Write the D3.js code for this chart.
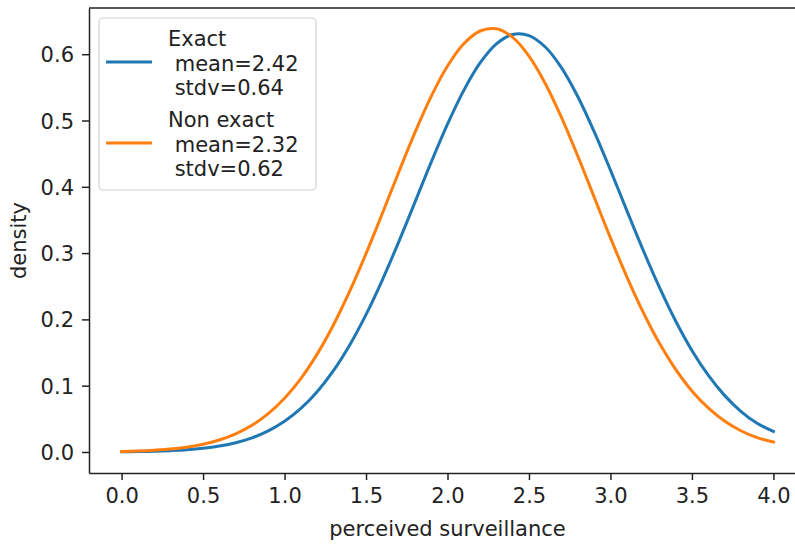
<!DOCTYPE html>
<html>
    <head>
        <meta charset="utf-8" />
        <script src="https://d3js.org/d3.v7.min.js"></script>
        <title>Perceived surveillance density</title>
        <style>
            body { margin: 0; background: #fff; }
            text { font-family: "DejaVu Sans", sans-serif; fill: #222; }
        </style>
    </head>
    <body>
      <svg id="chart">
        <g id="lines"></g>
        <g id="x"></g>
        <g id="y"></g>
        <g id="legend"></g>
      </svg>

<script>

        // sample points along perceived surveillance
        var xValues = [0.0, 0.1, 0.2, 0.3, 0.4, 0.5, 0.6, 0.7, 0.8, 0.9,
                       1.0, 1.1, 1.2, 1.3, 1.4, 1.5, 1.6, 1.7, 1.8, 1.9,
                       2.0, 2.1, 2.2, 2.3, 2.4, 2.5, 2.6, 2.7, 2.8, 2.9,
                       3.0, 3.1, 3.2, 3.3, 3.4, 3.5, 3.6, 3.7, 3.8, 3.9, 4.0];

        // density
        var exactDensity = [0.0003, 0.0006, 0.0011, 0.0020, 0.0033, 0.0055, 0.0089, 0.0139, 0.0213, 0.0318,
                            0.0463, 0.0657, 0.0909, 0.1227, 0.1615, 0.2073, 0.2594, 0.3165, 0.3766, 0.4372,
                            0.4945, 0.5455, 0.5868, 0.6156, 0.6297, 0.6281, 0.6109, 0.5795, 0.5359, 0.4833,
                            0.4251, 0.3645, 0.3048, 0.2486, 0.1976, 0.1532, 0.1159, 0.0854, 0.0614, 0.0432, 0.0310];

        var nonExactDensity = [0.0009, 0.0015, 0.0027, 0.0044, 0.0073, 0.0116, 0.0180, 0.0272, 0.0402, 0.0578,
                               0.0811, 0.1108, 0.1476, 0.1916, 0.2425, 0.2992, 0.3597, 0.4216, 0.4816, 0.5363,
                               0.5821, 0.6158, 0.6350, 0.6383, 0.6253, 0.5972, 0.5559, 0.5043, 0.4460, 0.3845,
                               0.3230, 0.2646, 0.2112, 0.1643, 0.1247, 0.0921, 0.0664, 0.0466, 0.0320, 0.0216, 0.0150];

        var seriesNames = ["Exact", "Non exact"];
        var seriesLabels = [
            ["Exact", " mean=2.42", " stdv=0.64"],
            ["Non exact", " mean=2.32", " stdv=0.62"]
        ];
        var colors = ["#1f77b4", "#ff7f0e"];

        var xTicks = [0.0, 0.5, 1.0, 1.5, 2.0, 2.5, 3.0, 3.5, 4.0];
        var yTicks = [0.0, 0.1, 0.2, 0.3, 0.4, 0.5, 0.6];

        var width = 795;
        var height = 545;
        var margin = {top: 8, left: 89, bottom: 72};
        var plotRight = 806;
        var fontSize = "21px";

        var svg = d3.select("#chart")
            .attr("width", width)
            .attr("height", height);

        var x = d3.scaleLinear()
            .domain([-0.2, 4.2])
            .range([margin.left, plotRight]);

        var y = d3.scaleLinear()
            .domain([-0.0317, 0.6697])
            .range([height - margin.bottom, margin.top]);

        var line = d3.line()
            .x(function(d) { return x(d.x); })
            .y(function(d) { return y(d.y); })
            .curve(d3.curveCatmullRom);

        var series = [exactDensity, nonExactDensity].map(function(vals, i) {
            return {
                name: seriesNames[i],
                color: colors[i],
                points: xValues.map(function(v, j) { return {x: v, y: vals[j]}; })
            };
        });

        svg.select("#lines").selectAll("path")
            .data(series)
            .enter().append("path")
            .attr("d", function(d) { return line(d.points); })
            .attr("fill", "none")
            .attr("stroke", function(d) { return d.color; })
            .attr("stroke-width", 3)
            .attr("stroke-linecap", "square");

        // axes
        var xAxis = d3.axisBottom(x)
            .tickValues(xTicks)
            .tickFormat(d3.format(".1f"))
            .tickSize(7)
            .tickPadding(8)
            .tickSizeOuter(0);

        var yAxis = d3.axisLeft(y)
            .tickValues(yTicks)
            .tickFormat(d3.format(".1f"))
            .tickSize(7)
            .tickPadding(8)
            .tickSizeOuter(0);

        var gx = svg.select("#x")
            .attr("transform", "translate(0," + (height - margin.bottom) + ")")
            .call(xAxis);

        var gy = svg.select("#y")
            .attr("transform", "translate(" + margin.left + ",0)")
            .call(yAxis);

        [gx, gy].forEach(function(g) {
            g.selectAll("text").style("font-size", fontSize).attr("fill", "#222");
            g.selectAll("line").attr("stroke", "#222").attr("stroke-width", 1.5);
            g.select(".domain").attr("stroke", "#222").attr("stroke-width", 1.5);
        });
        gy.selectAll("text").attr("dy", "0.36em");

        // top and right spines
        svg.append("line")
            .attr("x1", margin.left).attr("x2", plotRight)
            .attr("y1", margin.top).attr("y2", margin.top)
            .attr("stroke", "#222").attr("stroke-width", 1.5);
        svg.append("line")
            .attr("x1", plotRight).attr("x2", plotRight)
            .attr("y1", margin.top).attr("y2", height - margin.bottom)
            .attr("stroke", "#222").attr("stroke-width", 1.5);

        // axis labels
        svg.append("text")
            .attr("x", (margin.left + plotRight) / 2)
            .attr("y", 536)
            .attr("text-anchor", "middle")
            .style("font-size", fontSize)
            .text("perceived surveillance");

        svg.append("text")
            .attr("transform", "translate(26," + ((margin.top + height - margin.bottom) / 2) + ") rotate(-90)")
            .attr("text-anchor", "middle")
            .style("font-size", fontSize)
            .text("density");

        // legend
        var legend = svg.select("#legend");
        legend.append("rect")
            .attr("x", 99).attr("y", 18)
            .attr("width", 217).attr("height", 172)
            .attr("rx", 4)
            .attr("fill", "#fff").attr("fill-opacity", 0.8)
            .attr("stroke", "#d0d0d0").attr("stroke-width", 1.2);

        var entries = legend.selectAll(".entry")
            .data(series)
            .enter().append("g")
            .attr("class", "entry")
            .attr("transform", function(d, i) { return "translate(0," + (i * 81) + ")"; });

        entries.append("line")
            .attr("x1", 106).attr("x2", 152)
            .attr("y1", 62).attr("y2", 62)
            .attr("stroke", function(d) { return d.color; })
            .attr("stroke-width", 3);

        entries.each(function(d, i) {
            var g = d3.select(this);
            seriesLabels[i].forEach(function(s, k) {
                g.append("text")
                    .attr("x", 168)
                    .attr("y", 46 + k * 24.5)
                    .attr("xml:space", "preserve")
                    .style("white-space", "pre")
                    .style("font-size", fontSize)
                    .text(s);
            });
        });

</script>
    </body>
</html>
